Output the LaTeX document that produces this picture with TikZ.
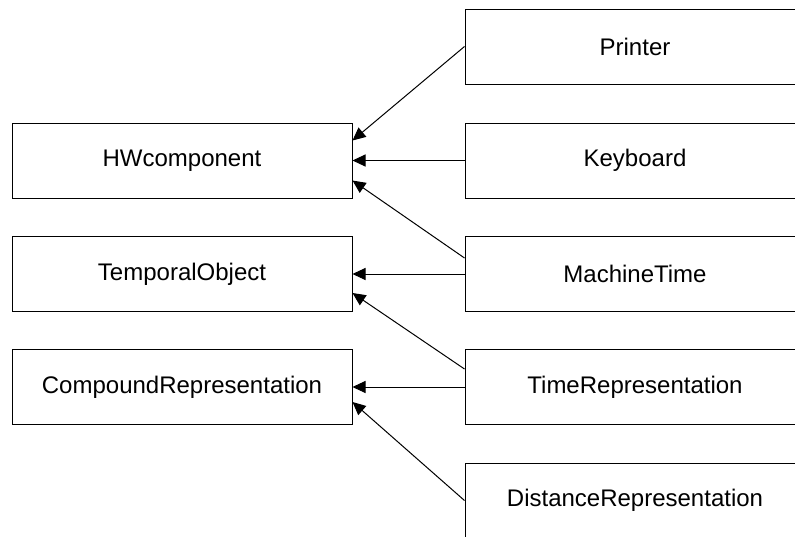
\documentclass[tikz,border=0pt]{standalone}
\usepackage{fontspec}
\setmainfont{Liberation Sans}
\usetikzlibrary{arrows.meta}

\tikzset{
  classbox/.style={draw, line width=1pt, minimum width=340pt, minimum height=75pt,
    inner sep=0pt, font=\fontsize{24}{28}\selectfont},
  isa/.style={-{Triangle[length=13pt,width=12pt]}, line width=1pt}
}

\begin{document}
\begin{tikzpicture}[x=1pt,y=-1pt]
        % page frame
        \useasboundingbox (0,0) rectangle (795,536);
        \clip (0,0) rectangle (795,536);

        % Parent classes
        \node[classbox] (hw) at (182,160.5) {HWcomponent};
        \node[classbox] (temporal) at (182,274) {TemporalObject};
        \node[classbox] (compound) at (182,387) {CompoundRepresentation};

        % Child classes
        \node[classbox] (printer) at (635,46.5) {Printer};
        \node[classbox] (keyboard) at (635,160.5) {Keyboard};
        \node[classbox] (machine) at (635,274) {MachineTime};
        \node[classbox] (timerep) at (635,387) {TimeRepresentation};
        \node[classbox] (distrep) at (635,500.5) {DistanceRepresentation};

        % Inheritance links
        \draw[isa] (printer.west) -- ([yshift=20pt]hw.east);
        \draw[isa] (keyboard.west) -- (hw.east);
        \draw[isa] ([yshift=16pt]machine.west) -- ([yshift=-20pt]hw.east);
        \draw[isa] (machine.west) -- (temporal.east);
        \draw[isa] ([yshift=18pt]timerep.west) -- ([yshift=-19pt]temporal.east);
        \draw[isa] (timerep.west) -- (compound.east);
        \draw[isa] (distrep.west) -- ([yshift=-15pt]compound.east);
    \end{tikzpicture}
\end{document}
